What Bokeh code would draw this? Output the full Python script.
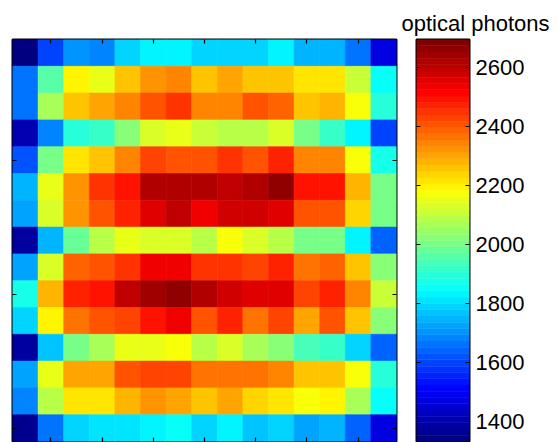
import numpy as np
from bokeh.plotting import figure
from bokeh.models import ColumnDataSource, Range1d, FixedTicker, LinearAxis, CustomJSTickFormatter, Title
from bokeh.transform import linear_cmap
from bokeh.layouts import row
from bokeh.embed import file_html
from bokeh.resources import INLINE

# ---------------- data (optical photons per pixel, 15 x 15) ----------------
columns = list(range(1, 16))
rows = list(range(1, 16))

row_01 = [1347, 1590, 1705, 1688, 1791, 1825, 1842, 1791, 1791, 1800, 1825, 1757, 1757, 1654, 1480]
row_02 = [1654, 1965, 2190, 2160, 2268, 2320, 2337, 2251, 2303, 2258, 2251, 2210, 2224, 2108, 1845]
row_03 = [1654, 2064, 2251, 2303, 2354, 2405, 2456, 2337, 2354, 2405, 2388, 2258, 2279, 2166, 1893]
row_04 = [1410, 1688, 1893, 1927, 2030, 2132, 2149, 2115, 2098, 2098, 2132, 2013, 1927, 1825, 1603]
row_05 = [1620, 2013, 2217, 2258, 2337, 2422, 2405, 2405, 2456, 2405, 2473, 2337, 2354, 2166, 1876]
row_06 = [1757, 2149, 2320, 2456, 2500, 2627, 2627, 2627, 2593, 2627, 2661, 2483, 2483, 2286, 2013]
row_07 = [1722, 2132, 2320, 2405, 2473, 2552, 2593, 2540, 2576, 2576, 2552, 2405, 2405, 2234, 2013]
row_08 = [1375, 1757, 1978, 2081, 2149, 2132, 2132, 2098, 2166, 2132, 2098, 2013, 2013, 1842, 1637]
row_09 = [1722, 2132, 2388, 2405, 2456, 2530, 2530, 2456, 2456, 2439, 2473, 2371, 2388, 2268, 2030]
row_10 = [1876, 2286, 2473, 2490, 2600, 2644, 2661, 2610, 2576, 2565, 2559, 2439, 2473, 2354, 2115]
row_11 = [1791, 2195, 2371, 2405, 2439, 2490, 2540, 2405, 2473, 2371, 2422, 2303, 2405, 2258, 2030]
row_12 = [1390, 1774, 1995, 2064, 2149, 2149, 2166, 2098, 2132, 2064, 2030, 1944, 1910, 1791, 1637]
row_13 = [1722, 2149, 2303, 2303, 2405, 2439, 2422, 2371, 2371, 2371, 2354, 2251, 2258, 2166, 1893]
row_14 = [1688, 2081, 2210, 2224, 2286, 2320, 2303, 2251, 2303, 2245, 2210, 2166, 2200, 2064, 1845]
row_15 = [1360, 1671, 1791, 1808, 1808, 1842, 1855, 1791, 1825, 1774, 1791, 1722, 1757, 1637, 1480]

x_ticks = [2, 4, 6, 8, 10, 12, 14]
y_ticks = [5, 10, 15]
cbar_ticks = [1400, 1600, 1800, 2000, 2200, 2400, 2600]
c_low, c_high = 1332, 2695
cbar_title = "optical photons"

# ---------------- jet colormap (64 levels, MATLAB style) ----------------
def jet(n=64):
    cols = []
    for i in range(n):
        t = i / (n - 1)
        r = min(max(1.5 - abs(4 * t - 3), 0), 1)
        g = min(max(1.5 - abs(4 * t - 2), 0), 1)
        b = min(max(1.5 - abs(4 * t - 1), 0), 1)
        cols.append("#%02x%02x%02x" % (int(round(r * 255)), int(round(g * 255)), int(round(b * 255))))
    return cols

JET = jet(64)

grid_rows = [row_01, row_02, row_03, row_04, row_05, row_06, row_07, row_08,
             row_09, row_10, row_11, row_12, row_13, row_14, row_15]
xs, ys, vals = [], [], []
for r, vals_row in zip(rows, grid_rows):
    for c, v in zip(columns, vals_row):
        xs.append(c)
        ys.append(r)
        vals.append(v)
src = ColumnDataSource(dict(x=xs, y=ys, value=vals))

FONT = "Liberation Sans"

# ---------------- main heatmap ----------------
p = figure(width=400, height=442,
           x_range=Range1d(0.5, 15.5), y_range=Range1d(15.5, 0.5),
           output_backend="svg", toolbar_location=None,
           x_axis_location=None, y_axis_location=None,
           min_border_left=12, min_border_right=4, min_border_top=39, min_border_bottom=1)
p.grid.visible = False
cmap = linear_cmap("value", JET, c_low, c_high)
p.rect(x="x", y="y", width=1, height=1, source=src,
       fill_color=cmap, line_color=cmap, line_width=0.6)

blank = CustomJSTickFormatter(code="return '';")

def tick_axis(ticks, show_labels=False):
    ax = LinearAxis(ticker=FixedTicker(ticks=ticks))
    ax.major_tick_in = 4
    ax.major_tick_out = 0
    ax.minor_tick_line_color = None
    ax.axis_line_color = None
    ax.major_tick_line_color = "black"
    ax.major_tick_line_width = 1.2
    if not show_labels:
        ax.formatter = blank
        ax.major_label_text_font_size = "1px"
        ax.major_label_standoff = 0
    return ax

p.add_layout(tick_axis(x_ticks), "above")
p.add_layout(tick_axis(x_ticks), "below")
p.add_layout(tick_axis(y_ticks), "left")
p.add_layout(tick_axis(y_ticks), "right")
p.outline_line_color = "black"
p.outline_line_width = 2

# ---------------- colour bar ----------------
cb = figure(width=158, height=442,
            x_range=Range1d(0, 1), y_range=Range1d(c_low, c_high),
            output_backend="svg", toolbar_location=None,
            x_axis_location=None, y_axis_location=None,
            min_border_left=16, min_border_right=89, min_border_top=39, min_border_bottom=1)
cb.grid.visible = False
edges = np.linspace(c_low, c_high, len(JET) + 1)
cb.quad(left=0, right=1, bottom=edges[:-1], top=edges[1:], fill_color=JET, line_color=JET, line_width=0.5)
cb.add_layout(tick_axis(cbar_ticks), "left")
rax = tick_axis(cbar_ticks, show_labels=True)
rax.major_label_text_font_size = "22px"
rax.major_label_text_font = FONT
rax.major_label_text_color = "black"
rax.major_label_standoff = 6
cb.add_layout(rax, "right")
cb.outline_line_color = "black"
cb.outline_line_width = 2
cb.title = None
cb.add_layout(Title(text=cbar_title, text_font=FONT, text_font_size="22px",
                    text_font_style="normal", text_color="black",
                    align="left", offset=-15, standoff=8), "above")

layout = row(p, cb)
open("out.html", "w").write(file_html(layout, INLINE))
